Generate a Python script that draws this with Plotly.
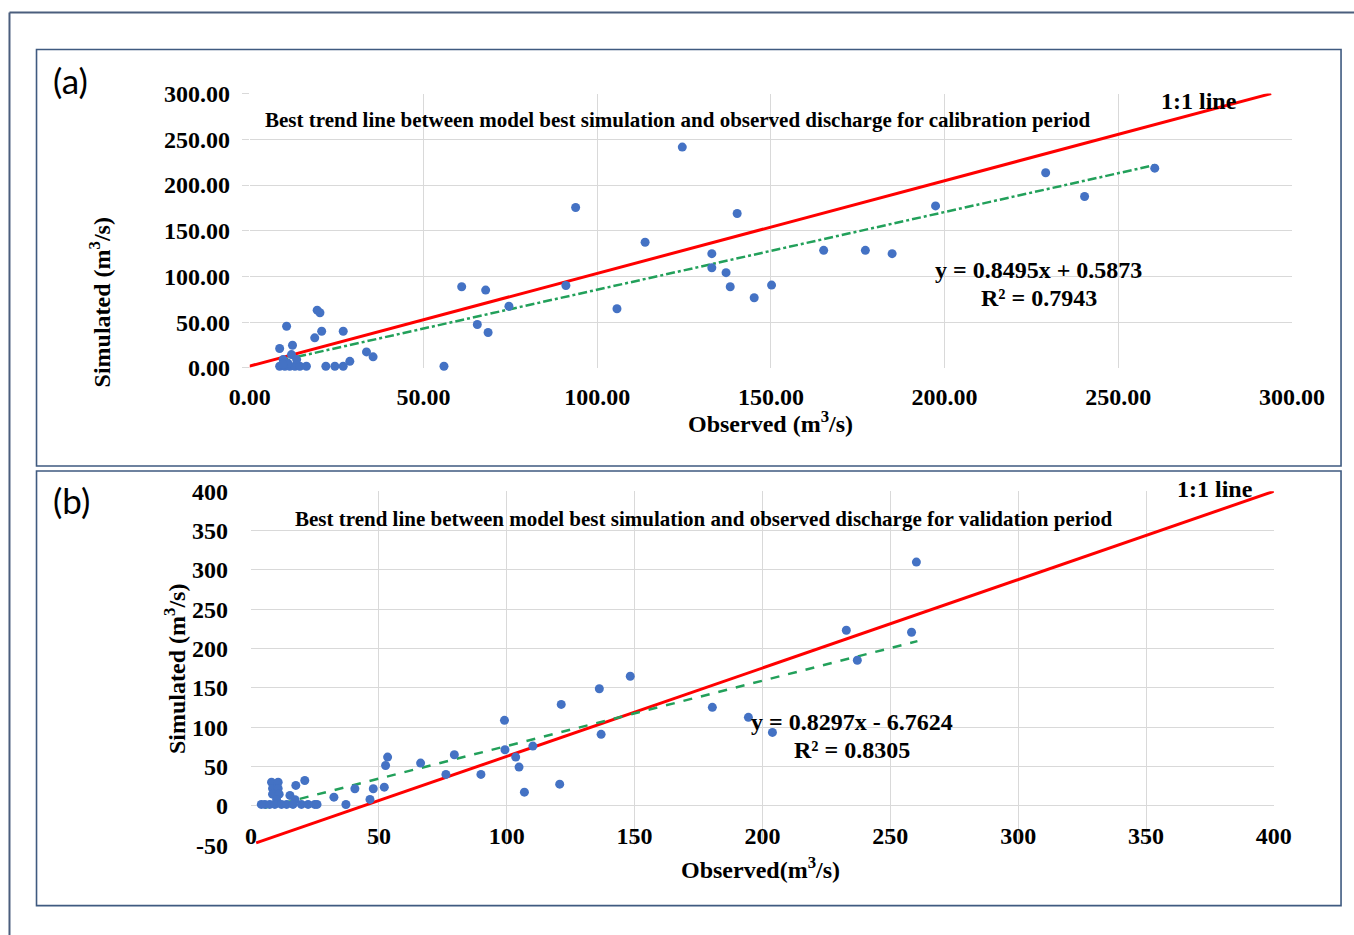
import plotly.graph_objects as go

W, H = 1354, 935

# ---------------- data: (a) calibration ----------------
cal_obs = [124.5, 93.8, 113.8, 140.3, 133.0, 133.0, 137.1, 138.3, 145.2, 150.2,
           105.7, 91.0, 61.0, 67.9, 74.6, 65.5, 68.6, 55.9, 260.5, 229.1,
           240.3, 197.4, 165.2, 177.2, 184.9,
           10.6, 19.4, 20.2, 20.7, 18.7, 26.9, 8.6, 12.3, 33.6, 35.5, 28.8,
           8.6, 10.1, 11.5, 13.0, 14.4, 16.3, 21.9, 24.5, 26.9,
           9.6, 12.0, 13.5, 11.0, 9.5]
cal_sim = [241.5, 175.4, 137.5, 168.9, 125.0, 109.6, 104.2, 88.8, 76.8, 90.6,
           64.7, 90.2, 88.8, 85.1, 67.5, 47.5, 38.7, 1.8, 218.5, 213.4,
           187.5, 177.2, 128.6, 128.6, 125.0,
           45.6, 63.2, 60.3, 40.1, 32.9, 40.1, 21.2, 24.8, 17.5, 12.1, 7.2,
           1.8, 1.8, 1.8, 1.8, 1.8, 1.8, 1.8, 1.8, 1.8,
           9.1, 14.6, 9.1, 5.0, 4.0]
cal_slope, cal_icpt = 0.8495, 0.5873
cal_trend_x = [8.6, 260.5]
cal_line_x = [-2, 294]
cal_line_y = [0, 300]

# ---------------- data: (b) validation ----------------
val_obs = [260.2, 232.8, 258.3, 237.1, 148.3, 136.2, 121.3, 99.1, 180.4, 194.5,
           203.9, 136.9, 99.3, 110.2, 103.5, 104.8, 106.9, 120.7, 89.9, 76.2,
           79.5, 66.3, 53.4, 52.6, 52.1, 47.8, 46.5, 40.6, 37.1, 32.4,
           21.0, 17.5, 8.0, 10.6, 8.4, 10.6, 8.4, 11.0, 15.2, 17.2, 10.0,
           4.0, 5.4, 7.3, 9.3, 11.9, 13.9, 16.4, 19.7, 22.3, 24.9, 25.8]
val_sim = [309.9, 223.3, 220.7, 185.1, 164.8, 149.0, 129.1, 108.8, 125.3, 112.6,
           93.5, 91.0, 71.5, 76.1, 62.1, 49.4, 17.6, 27.7, 40.1, 40.1,
           65.1, 54.5, 62.1, 51.5, 23.9, 21.9, 8.3, 21.9, 1.9, 11.2,
           32.4, 26.1, 30.3, 30.3, 22.3, 22.3, 15.0, 15.0, 13.4, 8.0, 8.0,
           2.0, 2.0, 2.0, 2.0, 2.0, 2.0, 2.0, 2.0, 2.0, 2.0, 2.0]
val_slope, val_icpt = 0.8297, -6.7624
val_trend_x = [5.4, 260.6]
val_line_x = [2, 401]
val_line_y = [-47, 401]

cal_ticks = [0, 50, 100, 150, 200, 250, 300]
val_xticks = [0, 50, 100, 150, 200, 250, 300, 350, 400]
val_yticks = [-50, 0, 50, 100, 150, 200, 250, 300, 350, 400]
val_ytick_text = ["-50", "0", "50", "100", "150", "200", "250", "300", "350", "400"]

# layout helpers: target picture pixel -> paper fraction
SX, OX, SY, OY = 0.959, 21.5, 0.971, 13.5


def px(X):
    return ((X - OX) / SX) / W


def py(Y):
    return 1 - ((Y - OY) / SY) / H


SERIF = "Liberation Serif"
BLUE = "#4472C4"
RED = "#FF0000"
GREEN = "#22a05a"
GRID = "#d9d9d9"

fig = go.Figure()

# (a)
fig.add_trace(go.Scatter(x=cal_line_x, y=cal_line_y, mode="lines",
                         line=dict(color=RED, width=3), xaxis="x", yaxis="y",
                         showlegend=False, hoverinfo="skip"))
fig.add_trace(go.Scatter(x=cal_trend_x, y=[cal_slope * v + cal_icpt for v in cal_trend_x],
                         mode="lines", line=dict(color=GREEN, width=2.5, dash="dashdot"),
                         xaxis="x", yaxis="y", showlegend=False))
fig.add_trace(go.Scatter(x=cal_obs, y=cal_sim, mode="markers",
                         marker=dict(color=BLUE, size=9), cliponaxis=False,
                         xaxis="x", yaxis="y", showlegend=False))

# (b)
fig.add_trace(go.Scatter(x=val_line_x, y=val_line_y, mode="lines",
                         line=dict(color=RED, width=3), xaxis="x2", yaxis="y2",
                         showlegend=False, hoverinfo="skip"))
fig.add_trace(go.Scatter(x=val_trend_x, y=[val_slope * v + val_icpt for v in val_trend_x],
                         mode="lines", line=dict(color=GREEN, width=2.5, dash="dash"),
                         xaxis="x2", yaxis="y2", showlegend=False))
fig.add_trace(go.Scatter(x=val_obs, y=val_sim, mode="markers",
                         marker=dict(color=BLUE, size=9), cliponaxis=False,
                         xaxis="x2", yaxis="y2", showlegend=False))

tickfont = dict(family=SERIF, size=24, color="black", weight="bold")

b_bottom, b_top = 844.8, 491.1
b_zero = b_bottom - (0 - (-50)) / 450 * (b_bottom - b_top)

fig.update_layout(
    width=W, height=H, margin=dict(l=0, r=0, t=0, b=0), autosize=False,
    paper_bgcolor="white", plot_bgcolor="white",
    xaxis=dict(domain=[px(250), px(1291)], range=[0, 300], tickvals=cal_ticks,
               tickformat=".2f", showgrid=True, gridcolor=GRID, zeroline=False,
               ticks="", tickfont=tickfont, ticklabelstandoff=12, anchor="y",
               showline=False),
    yaxis=dict(domain=[py(368), py(94)], range=[0, 300], tickvals=cal_ticks,
               tickformat=".2f", showgrid=True, gridcolor=GRID, zeroline=False,
               ticks="outside", ticklen=7, tickcolor=GRID, tickfont=tickfont,
               ticklabelstandoff=7, anchor="x", showline=False),
    xaxis2=dict(domain=[px(251.3), px(1272.9)], range=[0, 400], tickvals=val_xticks,
                showgrid=True, gridcolor=GRID, zeroline=False, ticks="",
                tickfont=tickfont, ticklabelstandoff=13, anchor="free",
                position=py(b_zero), showline=False),
    yaxis2=dict(domain=[py(b_bottom), py(b_top)], range=[-50, 400], tickvals=val_yticks,
                ticktext=val_ytick_text,
                showgrid=True, gridcolor=GRID, zeroline=False, ticks="",
                tickfont=tickfont, ticklabelstandoff=22, anchor="x2", showline=False),
)

FRAME = "#4b5e7d"
PANEL = "#3f5a80"
shapes = [
    dict(type="line", xref="paper", yref="paper", x0=px(10), x1=px(1360), y0=py(13), y1=py(13),
         line=dict(color=FRAME, width=2), layer="below"),
    dict(type="line", xref="paper", yref="paper", x0=px(10), x1=px(10), y0=py(13), y1=py(940),
         line=dict(color=FRAME, width=2), layer="below"),
    dict(type="rect", xref="paper", yref="paper", x0=px(37), x1=px(1340), y0=py(466), y1=py(50),
         line=dict(color=PANEL, width=1.6), fillcolor="rgba(0,0,0,0)", layer="below"),
    dict(type="rect", xref="paper", yref="paper", x0=px(37), x1=px(1340), y0=py(905), y1=py(471),
         line=dict(color=PANEL, width=1.6), fillcolor="rgba(0,0,0,0)", layer="below"),
]
fig.update_layout(shapes=shapes)


def ann(text, x, y, size, bold=True, family=SERIF, angle=0, xanchor="center"):
    fig.add_annotation(text=text, x=px(x), y=py(y), xref="paper", yref="paper",
                       showarrow=False, xanchor=xanchor, yanchor="middle", textangle=angle,
                       font=dict(family=family, size=size, color="black",
                                 weight="bold" if bold else "normal"))


ann("(a)", 71, 80, 35, bold=False, family="Lato")
ann("(b)", 72, 500, 35, bold=False, family="Lato")

ann("Best trend line between model best simulation and observed discharge for calibration period",
    678, 120, 21)
ann("Best trend line between model best simulation and observed discharge for validation period",
    703, 519, 21)
ann("1:1 line", 1198, 101, 24)
ann("1:1 line", 1214, 489, 24)
ann("y = 0.8495x + 0.5873", 1038, 270, 24)
ann("R² = 0.7943", 1038, 298, 24)
ann("y = 0.8297x - 6.7624", 852, 722, 24)
ann("R² = 0.8305", 852, 750, 24)
ann("Observed (m<sup>3</sup>/s)", 770, 422, 24)
ann("Observed(m<sup>3</sup>/s)", 760, 867, 24)
ann("Simulated (m<sup>3</sup>/s)", 100, 303, 24, angle=-90)
ann("Simulated (m<sup>3</sup>/s)", 176, 669, 24, angle=-90)

fig.write_html("out.html", config={"responsive": False})
